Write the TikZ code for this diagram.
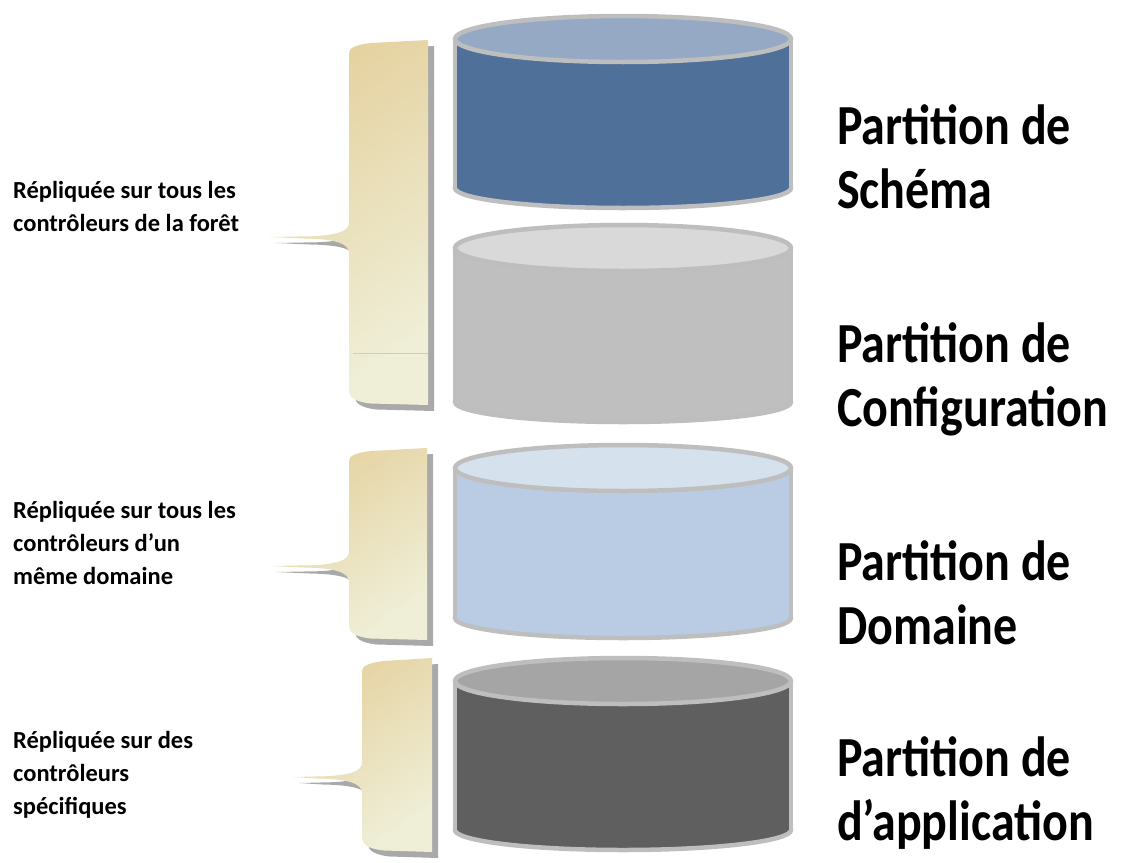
\documentclass[tikz,border=0pt]{standalone}
\usepackage{fontspec}
\setmainfont{Carlito}
\usepackage{tikz}
\usetikzlibrary{positioning}

\definecolor{schTop}{HTML}{95A9C5}
\definecolor{schBody}{HTML}{4F7099}
\definecolor{cfgTop}{HTML}{D9D9D9}
\definecolor{cfgBody}{HTML}{BFBFBF}
\definecolor{domTop}{HTML}{D6E1EE}
\definecolor{domBody}{HTML}{B9CCE4}
\definecolor{appTop}{HTML}{A5A5A5}
\definecolor{appBody}{HTML}{5F5F5F}
\definecolor{cylGray}{HTML}{BEBEBE}
\definecolor{braceTop}{HTML}{E5D2A0}
\definecolor{braceBot}{HTML}{EFEFD8}
\definecolor{braceShadow}{HTML}{A9A9A9}

\tikzset{
  cylline/.style={draw=cylGray, line width=4.5pt},
  bracebody/.style={top color=braceTop, bottom color=braceBot, shading angle=35},
  braceshadow/.style={fill=braceShadow},
  leftlbl/.style={font=\fontsize{24.5}{33}\selectfont\bfseries, align=left, inner sep=0pt, anchor=base west},
  partlbl/.style={font=\fontsize{48}{54}\selectfont\bfseries, align=left, inner sep=0pt,
                  anchor=base west, yscale=1.18, transform shape},
}

% #1 name, #2 left, #3 right, #4 top, #5 bottom, #6 tail y, #7 tail tip x
\newcommand{\repbrace}[7]{%
  \def\bracepath{(#3,#4) -- ({#2+22},{#4+3}) .. controls ({#2+6},{#4+5}) and (#2,{#4+8}) .. (#2,{#4+13})
    -- (#2,{#6-14}) .. controls (#2,{#6-5}) and ({#2-15},{#6-2}) .. ({#2-35},{#6-0.8}) -- (#7,#6)
    -- ({#2-45},{#6+1.5}) .. controls ({#2-15},{#6+2}) and (#2,{#6+6}) .. (#2,{#6+16})
    -- (#2,{#5-14}) .. controls (#2,{#5-8}) and ({#2+6},{#5-3}) .. ({#2+22},{#5-1.5}) -- (#3,#5) -- cycle}%
  \fill[braceshadow, shift={(6,6)}] \bracepath;
  \shade[bracebody] \bracepath;
  \coordinate (#1) at (#7,#6);
}

\begin{document}
\begin{tikzpicture}[x=1pt,y=-1pt]
\useasboundingbox (0,0) rectangle (1121,862);

% cylinders
\foreach \tc/\bc/\ct/\cb in {39/188/schTop/schBody, 248/402/cfgTop/cfgBody,
                             468/618/domTop/domBody, 681/830/appTop/appBody}{
  \filldraw[cylline, fill=\cb] (623,\bc) ellipse[x radius=168, y radius=20];
  \fill[\cb] (455,\tc) rectangle (791,\bc);
  \draw[cylline] (455,\tc) -- (455,\bc) (791,\tc) -- (791,\bc);
  \filldraw[cylline, fill=\ct] (623,\tc) ellipse[x radius=168, y radius=23];
}

% braces
\repbrace{bForet}{349}{428}{40}{405}{237}{270}
\draw[cylGray!80, line width=1pt] (353,353) -- (428,353);
\repbrace{bDomaine}{349}{427}{448}{640}{566}{270}
\repbrace{bSpec}{362}{432}{658}{852}{777}{293}

% texts (anchored on the last line)
\node[leftlbl] (tForet) at (13,231) {Répliquée sur tous les\\contrôleurs de la forêt};
\node[leftlbl] (tDomaine) at (13,584) {Répliquée sur tous les\\contrôleurs d’un\\même domaine};
\node[leftlbl] (tSpec) at (13,814) {Répliquée sur des\\contrôleurs\\spécifiques};

\node[partlbl] (pSchema) at (837,208) {Partition de\\Schéma};
\node[partlbl] (pConfig) at (837,426) {Partition de\\Configuration};
\node[partlbl] (pDomaine) at (837,644) {Partition de\\Domaine};
\node[partlbl] (pAppli) at (837,840) {Partition de\\d’application};
\end{tikzpicture}
\end{document}
